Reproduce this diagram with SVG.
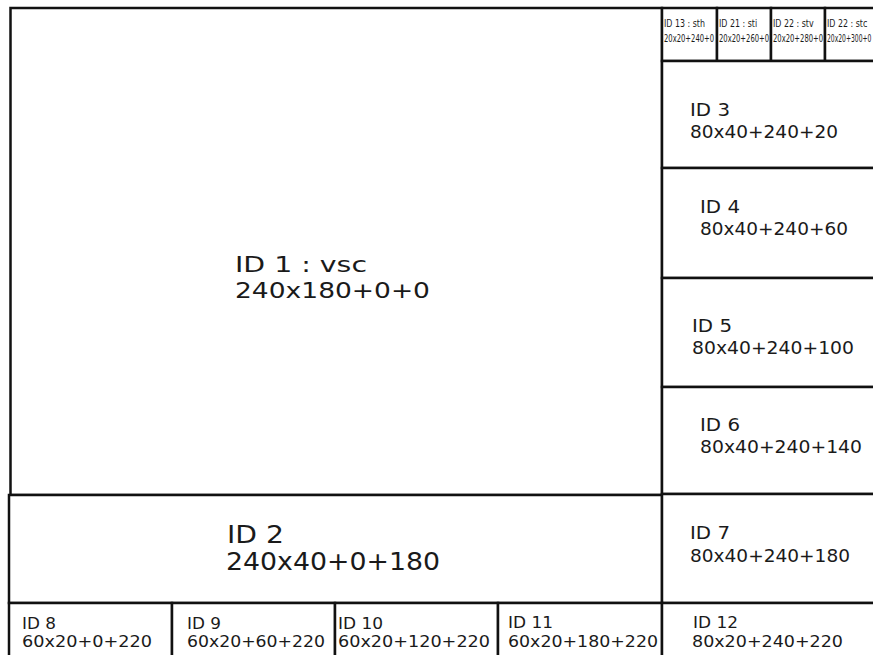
<svg xmlns="http://www.w3.org/2000/svg" width="873" height="655" viewBox="0 0 873 655">
<style>
  .box { fill: #ffffff; stroke: #111111; stroke-width: 2.5; }
  .t { font-family: "DejaVu Sans", Verdana, sans-serif; fill: #1a1a1a; }
  .big { font-size: 24px; }
  .big1 { font-size: 22px; }
  .mid { font-size: 18px; }
  .sm { font-size: 16px; }
  .tiny { font-size: 11px; }
</style>
<rect width="873" height="655" fill="#ffffff"/>
<g id="connectors"></g>

<g id="node-1">
  <rect class="box" x="10.5" y="8" width="651.5" height="487"/>
  <text class="t big1" x="235" y="272" textLength="132" lengthAdjust="spacingAndGlyphs">ID 1 : vsc</text>
  <text class="t big1" x="235" y="298" textLength="195" lengthAdjust="spacingAndGlyphs">240x180+0+0</text>
</g>
<g id="node-2">
  <rect class="box" x="9" y="495" width="653" height="108"/>
  <text class="t big" x="227" y="543" textLength="57" lengthAdjust="spacingAndGlyphs">ID 2</text>
  <text class="t big" x="226" y="570" textLength="214" lengthAdjust="spacingAndGlyphs">240x40+0+180</text>
</g>

<g id="node-13">
  <rect class="box" x="662" y="8" width="55" height="53"/>
  <text class="t tiny" transform="translate(664,27) scale(0.72,1)">ID 13 : sth</text>
  <text class="t tiny" transform="translate(664,42) scale(0.62,1)">20x20+240+0</text>
</g>
<g id="node-21">
  <rect class="box" x="717" y="8" width="54" height="53"/>
  <text class="t tiny" transform="translate(719,27) scale(0.72,1)">ID 21 : sti</text>
  <text class="t tiny" transform="translate(719,42) scale(0.62,1)">20x20+260+0</text>
</g>
<g id="node-22">
  <rect class="box" x="771" y="8" width="54" height="53"/>
  <text class="t tiny" transform="translate(773,27) scale(0.72,1)">ID 22 : stv</text>
  <text class="t tiny" transform="translate(773,42) scale(0.62,1)">20x20+280+0</text>
</g>
<g id="node-22b">
  <rect class="box" x="825" y="8" width="54" height="53"/>
  <text class="t tiny" transform="translate(827,27) scale(0.72,1)">ID 22 : stc</text>
  <text class="t tiny" transform="translate(827,42) scale(0.55,1)">20x20+300+0</text>
</g>

<g id="node-3">
  <rect class="box" x="662" y="61" width="230" height="107"/>
  <text class="t mid" x="690" y="116" textLength="40" lengthAdjust="spacingAndGlyphs">ID 3</text>
  <text class="t mid" x="690" y="138" textLength="148" lengthAdjust="spacingAndGlyphs">80x40+240+20</text>
</g>
<g id="node-4">
  <rect class="box" x="662" y="168" width="230" height="110"/>
  <text class="t mid" x="700" y="213" textLength="40" lengthAdjust="spacingAndGlyphs">ID 4</text>
  <text class="t mid" x="700" y="235" textLength="148" lengthAdjust="spacingAndGlyphs">80x40+240+60</text>
</g>
<g id="node-5">
  <rect class="box" x="662" y="278" width="230" height="109"/>
  <text class="t mid" x="692" y="332" textLength="40" lengthAdjust="spacingAndGlyphs">ID 5</text>
  <text class="t mid" x="692" y="354" textLength="162" lengthAdjust="spacingAndGlyphs">80x40+240+100</text>
</g>
<g id="node-6">
  <rect class="box" x="662" y="387" width="230" height="107"/>
  <text class="t mid" x="700" y="431" textLength="40" lengthAdjust="spacingAndGlyphs">ID 6</text>
  <text class="t mid" x="700" y="453" textLength="162" lengthAdjust="spacingAndGlyphs">80x40+240+140</text>
</g>
<g id="node-7">
  <rect class="box" x="662" y="494" width="230" height="109"/>
  <text class="t mid" x="690" y="539" textLength="40" lengthAdjust="spacingAndGlyphs">ID 7</text>
  <text class="t mid" x="690" y="562" textLength="160" lengthAdjust="spacingAndGlyphs">80x40+240+180</text>
</g>

<g id="node-8">
  <rect class="box" x="9" y="603" width="163" height="70"/>
  <text class="t sm" x="22" y="629" textLength="34" lengthAdjust="spacingAndGlyphs">ID 8</text>
  <text class="t sm" x="22" y="647" textLength="130" lengthAdjust="spacingAndGlyphs">60x20+0+220</text>
</g>
<g id="node-9">
  <rect class="box" x="172" y="603" width="163" height="70"/>
  <text class="t sm" x="187" y="629" textLength="34" lengthAdjust="spacingAndGlyphs">ID 9</text>
  <text class="t sm" x="187" y="647" textLength="138" lengthAdjust="spacingAndGlyphs">60x20+60+220</text>
</g>
<g id="node-10">
  <rect class="box" x="335" y="603" width="163" height="70"/>
  <text class="t sm" x="338" y="629" textLength="45" lengthAdjust="spacingAndGlyphs">ID 10</text>
  <text class="t sm" x="338" y="647" textLength="152" lengthAdjust="spacingAndGlyphs">60x20+120+220</text>
</g>
<g id="node-11">
  <rect class="box" x="498" y="603" width="164" height="70"/>
  <text class="t sm" x="508" y="628" textLength="45" lengthAdjust="spacingAndGlyphs">ID 11</text>
  <text class="t sm" x="508" y="647" textLength="150" lengthAdjust="spacingAndGlyphs">60x20+180+220</text>
</g>
<g id="node-12">
  <rect class="box" x="662" y="603" width="230" height="70"/>
  <text class="t sm" x="693" y="628" textLength="45" lengthAdjust="spacingAndGlyphs">ID 12</text>
  <text class="t sm" x="692" y="647" textLength="151" lengthAdjust="spacingAndGlyphs">80x20+240+220</text>
</g>
</svg>
